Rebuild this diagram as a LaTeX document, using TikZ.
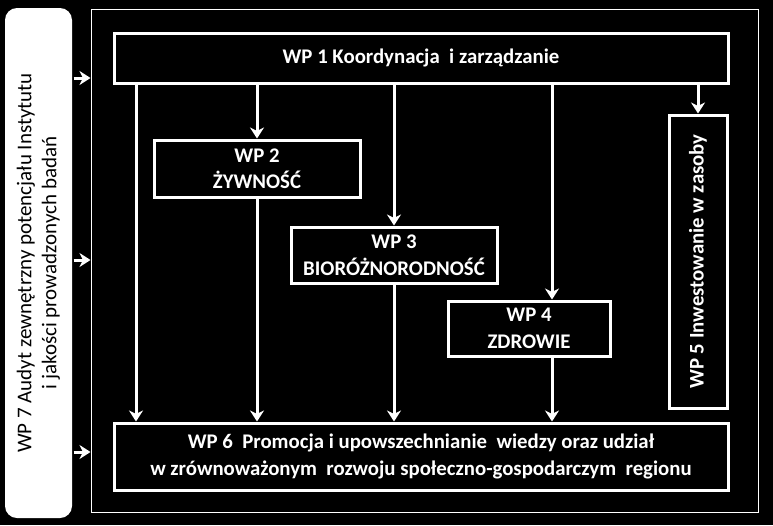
\documentclass[tikz,border=0pt]{standalone}
\usepackage{fontspec}
\setmainfont{Carlito}
\usetikzlibrary{arrows.meta}

\tikzset{
  wpbox/.style={draw=white, line width=3pt, text=white, inner sep=0pt, align=center,
    font=\bfseries\fontsize{20.8}{26.5}\selectfont},
}

\begin{document}
\begin{tikzpicture}[x=1pt, y=-1pt, >={Stealth[length=11pt,width=14pt,inset=3.5pt]},
  every path/.style={white, line width=3pt}]
\fill[black] (0,0) rectangle (773,525);
\useasboundingbox (0,0) rectangle (773,525);
%
\draw (38.5,263) node[fill=white, rounded corners=12pt, rotate=90, minimum width=510pt,
  minimum height=67pt, inner sep=0pt, align=center, text=black,
  font=\fontsize{21}{25}\selectfont] (wp7)
  {WP 7 Audyt zewnętrzny potencjału Instytutu\\ i jakości prowadzonych badań};
\draw (424.5,260.5) node[draw=white, line width=1pt, minimum width=667pt, minimum height=503pt] (frame) {};
%
\draw (421,58) node[wpbox, minimum width=614pt, minimum height=50pt] (wp1) {WP 1 Koordynacja\ \ i zarządzanie};
\draw (257,168.5) node[wpbox, minimum width=206pt, minimum height=57pt] (wp2) {WP 2\\ŻYWNOŚĆ};
\draw (394,255) node[wpbox, minimum width=206pt, minimum height=56pt] (wp3) {WP 3\\BIORÓŻNORODNOŚĆ};
\draw (529,328.5) node[wpbox, minimum width=162pt, minimum height=55pt] (wp4) {WP 4\\ZDROWIE};
\draw (698,261.5) node[wpbox, rotate=90, minimum width=293pt, minimum height=58pt] (wp5) {WP 5 Inwestowanie w zasoby};
\draw (421,456.5) node[wpbox, minimum width=614pt, minimum height=67pt] (wp6)
  {WP 6\ \ Promocja i upowszechnianie\ \ wiedzy oraz udział\\ w zrównoważonym\ \ rozwoju społeczno-gospodarczym\ \ regionu};
%
\path[draw, ->] (wp7.south |- 0,78) -- (frame.west |- 0,78);
\path[draw, ->] (wp7.south |- 0,260) -- (frame.west |- 0,260);
\path[draw, ->] (wp7.south |- 0,452) -- (frame.west |- 0,452);
%
\path[draw, ->] (wp1.south -| 136,0) -- (wp6.north -| 136,0);
\path[draw, ->] (wp1.south -| wp2.north) -- (wp2.north);
\path[draw, ->] (wp2.south) -- (wp6.north -| wp2.south);
\path[draw, ->] (wp1.south -| wp3.north) -- (wp3.north);
\path[draw, ->] (wp3.south) -- (wp6.north -| wp3.south);
\path[draw, ->] (wp1.south -| 552,0) -- (wp4.north -| 552,0);
\path[draw, ->] (wp4.south -| 552,0) -- (wp6.north -| 552,0);
\path[draw, ->] (wp1.south -| wp5.east) -- (wp5.east);
\end{tikzpicture}
\end{document}
